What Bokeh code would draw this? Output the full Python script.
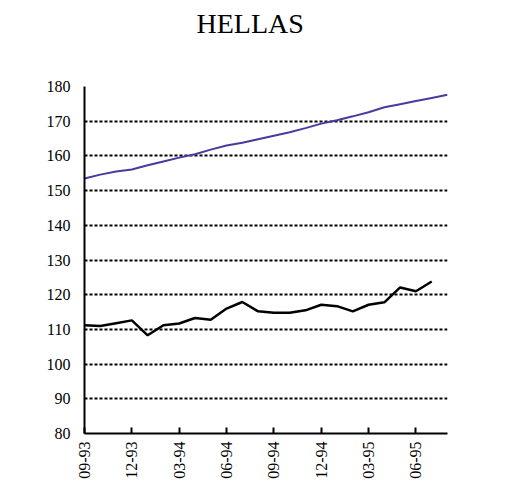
import math
from bokeh.plotting import figure
from bokeh.models import FixedTicker, Range1d, Title
from bokeh.embed import file_html
from bokeh.resources import INLINE

months = ["09-93", "10-93", "11-93", "12-93",
          "01-94", "02-94", "03-94", "04-94", "05-94", "06-94",
          "07-94", "08-94", "09-94", "10-94", "11-94", "12-94",
          "01-95", "02-95", "03-95", "04-95", "05-95", "06-95",
          "07-95", "08-95"]

blue_series = [153.5, 154.6, 155.5, 156.1, 157.3, 158.4, 159.5, 160.5,
               161.8, 163.0, 163.8, 164.8, 165.8, 166.8, 168.0, 169.3,
               170.3, 171.4, 172.6, 174.0, 174.9, 175.8, 176.7, 177.6]

black_series = [111.2, 111.0, 111.8, 112.6, 108.3, 111.2, 111.7, 113.3,
                112.8, 116.0, 117.9, 115.2, 114.8, 114.8, 115.5, 117.1,
                116.7, 115.2, 117.1, 117.8, 122.1, 121.0, 123.8]

tick_labels = ["09-93", "12-93", "03-94", "06-94", "09-94", "12-94",
               "03-95", "06-95"]
y_ticks = [80, 90, 100, 110, 120, 130, 140, 150, 160, 170, 180]
title_text = "HELLAS"

FONT = "Liberation Serif"

p = figure(width=491, height=481, output_backend="svg", toolbar_location=None,
           x_range=Range1d(0, len(months) - 1), y_range=Range1d(80, 180),
           min_border_left=84, min_border_right=44, min_border_bottom=47,
           min_border_top=86)

# blank spacer between frame and title, then the title above it
spacer = Title(text=" ", text_font=FONT, text_font_size="28px", standoff=10)
p.add_layout(spacer, "above")
title = Title(text=title_text, text_font=FONT, text_font_size="28px",
              text_font_style="normal", text_color="black", align="left",
              offset=112, standoff=10)
p.add_layout(title, "above")

p.background_fill_color = "white"
p.border_fill_color = "white"
p.outline_line_color = None

xs_blue = list(range(len(blue_series)))
xs_black = list(range(len(black_series)))
p.line(xs_blue, blue_series, line_color="#4a3a9c", line_width=2)
p.line(xs_black, black_series, line_color="black", line_width=2.5)

tick_pos = [months.index(t) for t in tick_labels]
p.xaxis.ticker = FixedTicker(ticks=tick_pos)
p.xaxis.major_label_overrides = {pos: lab for pos, lab in zip(tick_pos, tick_labels)}
p.xaxis.major_label_orientation = math.pi / 2
p.xaxis.major_tick_in = 6
p.xaxis.major_tick_out = 0
p.xaxis.minor_tick_line_color = None
p.xaxis.axis_line_width = 2
p.xaxis.major_tick_line_width = 2
p.xaxis.major_label_text_font = FONT
p.xaxis.major_label_text_font_size = "16px"
p.xaxis.major_label_text_color = "black"
p.xaxis.major_label_standoff = 8

p.yaxis.ticker = FixedTicker(ticks=y_ticks)
p.yaxis.major_tick_in = 0
p.yaxis.major_tick_out = 0
p.yaxis.minor_tick_line_color = None
p.yaxis.axis_line_width = 2
p.yaxis.major_label_text_font = FONT
p.yaxis.major_label_text_font_size = "16px"
p.yaxis.major_label_text_color = "black"
p.yaxis.major_label_standoff = 14

p.xgrid.grid_line_color = None
p.ygrid.grid_line_color = "black"
p.ygrid.grid_line_width = 2
p.ygrid.grid_line_dash = "3 2"

open("out.html", "w").write(file_html(p, INLINE))
